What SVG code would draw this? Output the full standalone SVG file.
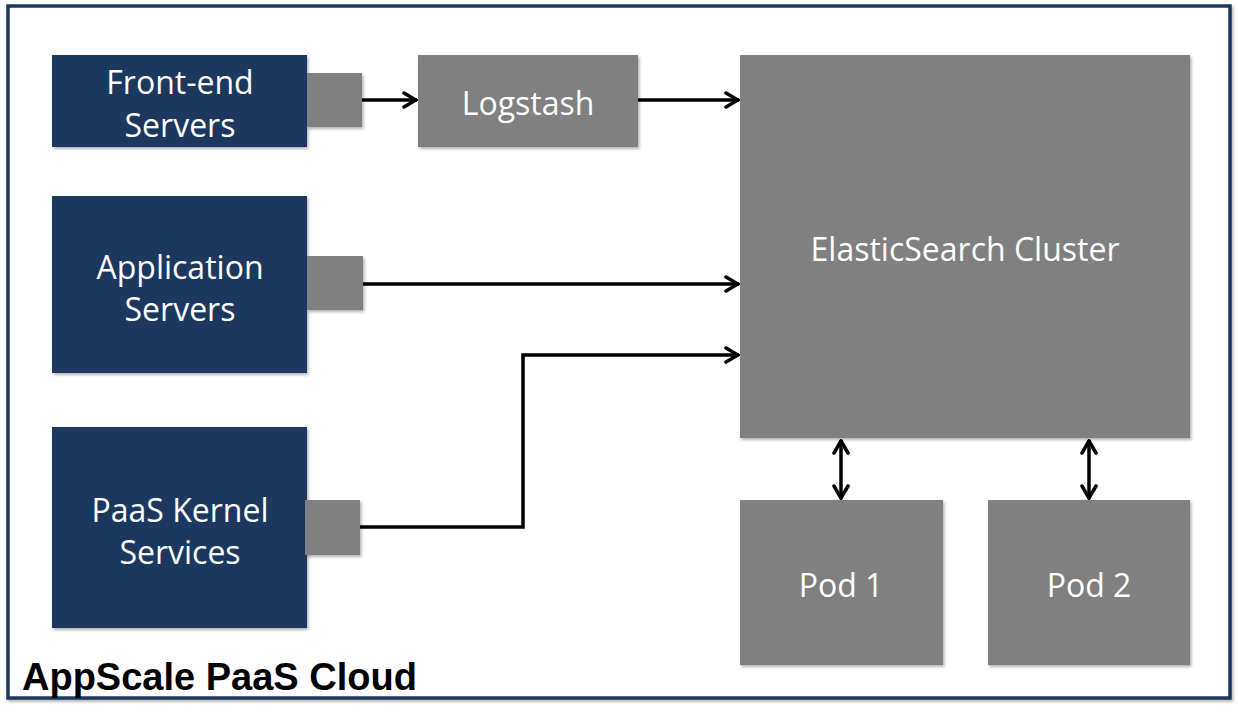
<svg xmlns="http://www.w3.org/2000/svg" width="1238" height="714" viewBox="0 0 1238 714">
<defs>
<filter id="sh" x="-5%" y="-5%" width="115%" height="115%">
<feDropShadow dx="1.5" dy="2" stdDeviation="1.5" flood-color="#000" flood-opacity="0.3"/>
</filter>
<marker id="ah" viewBox="0 0 16 18" refX="15" refY="9" markerWidth="16" markerHeight="18" markerUnits="userSpaceOnUse" orient="auto-start-reverse">
<path d="M2,2 L14,9 L2,16" fill="none" stroke="#000" stroke-width="3.5" stroke-linejoin="miter" stroke-linecap="round"/>
</marker>
<style>
.blue{fill:#1a375e;filter:url(#sh)}
.gray{fill:#808080;filter:url(#sh)}
.lbl{font-family:"Open Sans","Liberation Sans",sans-serif;font-size:32px;fill:#fff;text-anchor:middle}
.conn{fill:none;stroke:#000;stroke-width:3.5;marker-end:url(#ah)}
.bi{marker-start:url(#ah)}
</style>
</defs>
<rect x="0" y="0" width="1238" height="714" fill="#fff"/>
<g id="cloud">
<rect x="8" y="6" width="1222" height="692" fill="#fff" stroke="#1a375e" stroke-width="3.5" filter="url(#sh)"/>
<text x="22" y="690" font-family="'Liberation Sans',Arial,sans-serif" font-size="38" font-weight="bold" fill="#000">AppScale PaaS Cloud</text>
</g>
<g id="frontend">
<rect class="blue" x="52" y="55" width="255" height="92"/>
<text class="lbl"><tspan x="180" y="94">Front-end</tspan><tspan x="180" y="137">Servers</tspan></text>
<rect class="gray" x="307" y="73" width="55" height="54"/>
</g>
<g id="logstash">
<rect class="gray" x="418" y="55" width="220" height="92"/>
<text class="lbl" x="528" y="115">Logstash</text>
</g>
<g id="appservers">
<rect class="blue" x="52" y="196" width="255" height="177"/>
<text class="lbl"><tspan x="180" y="279">Application</tspan><tspan x="180" y="321">Servers</tspan></text>
<rect class="gray" x="307" y="256" width="56" height="54"/>
</g>
<g id="paas">
<rect class="blue" x="52" y="427" width="255" height="201"/>
<text class="lbl"><tspan x="180" y="522">PaaS Kernel</tspan><tspan x="180" y="564">Services</tspan></text>
<rect class="gray" x="305" y="500" width="55" height="55"/>
</g>
<g id="es">
<rect class="gray" x="740" y="55" width="450" height="383"/>
<text class="lbl" x="965" y="261">ElasticSearch Cluster</text>
</g>
<g id="pod1">
<rect class="gray" x="740" y="500" width="203" height="165"/>
<text class="lbl" x="841" y="597">Pod 1</text>
</g>
<g id="pod2">
<rect class="gray" x="988" y="500" width="202" height="165"/>
<text class="lbl" x="1089" y="597">Pod 2</text>
</g>
<g id="connectors">
<path class="conn" d="M362,100 L417,100"/>
<path class="conn" d="M638,100 L739,100"/>
<path class="conn" d="M363,284 L739,284"/>
<path class="conn" d="M360,527 L523,527 L523,355 L739,355"/>
<path class="conn bi" d="M841,440 L841,499"/>
<path class="conn bi" d="M1089,440 L1089,499"/>
</g>
</svg>
